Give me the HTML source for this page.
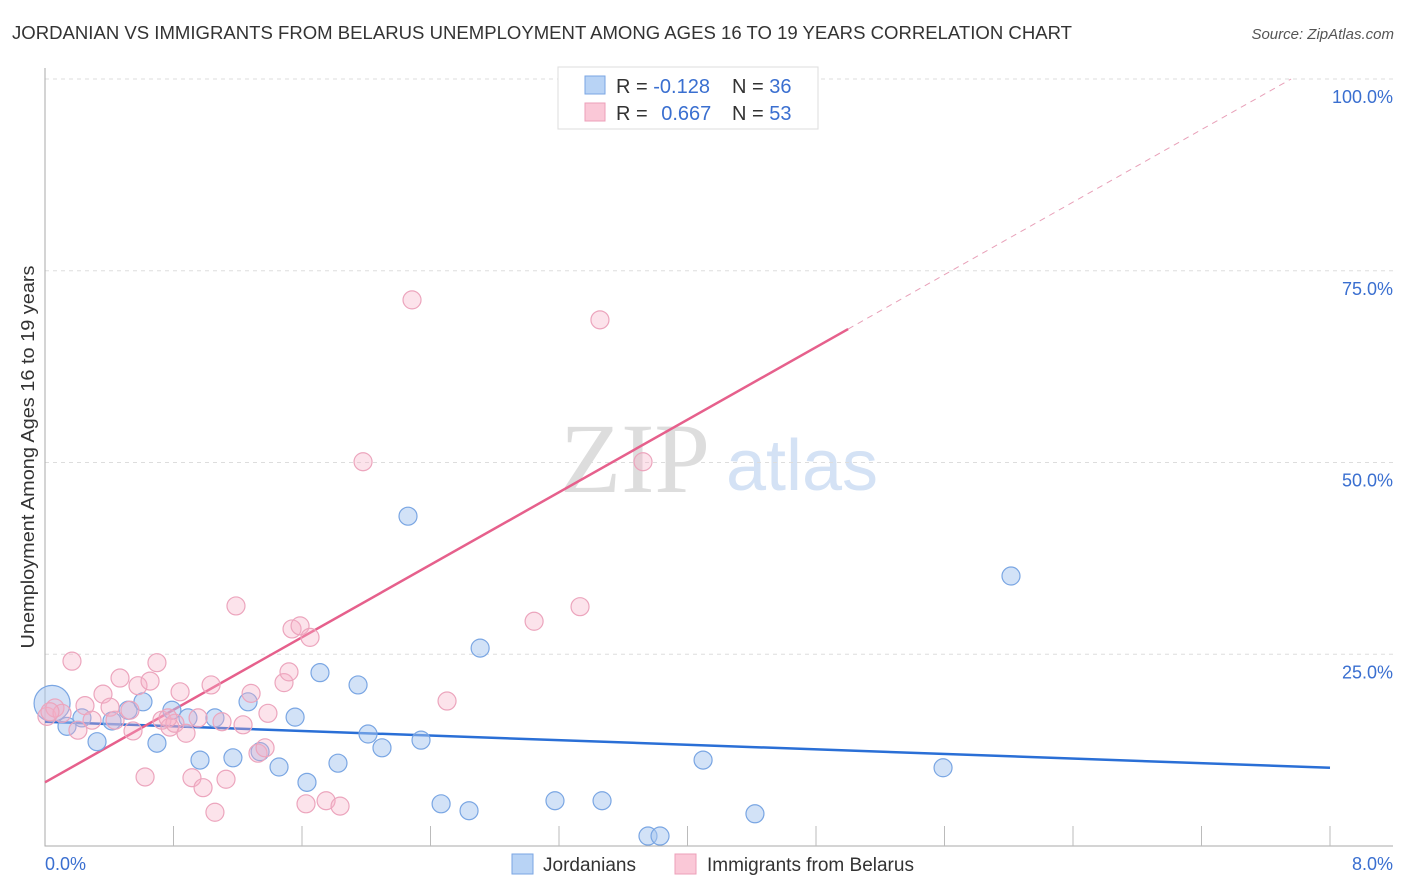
<!DOCTYPE html>
<html><head><meta charset="utf-8"><style>
body{margin:0;background:#fff;font-family:"Liberation Sans",sans-serif;}
svg{display:block}
</style></head><body>
<svg id="chart" width="1406" height="892" viewBox="0 0 1406 892">
<text x="12" y="39" font-size="18" fill="#333" textLength="1060" lengthAdjust="spacingAndGlyphs">JORDANIAN VS IMMIGRANTS FROM BELARUS UNEMPLOYMENT AMONG AGES 16 TO 19 YEARS CORRELATION CHART</text>
<text x="1394" y="39" font-size="15" fill="#555" text-anchor="end" font-style="italic">Source: ZipAtlas.com</text>
<g>
<text x="635" y="492" font-size="100" fill="#ddd" text-anchor="middle" font-family="Liberation Serif,serif">ZIP</text>
<text x="802" y="490" font-size="72" fill="#d4e2f5" text-anchor="middle">atlas</text>
</g>
<g id="grid"></g>
<g id="axes"></g>
<g id="lines"></g>
<g id="pts"></g>
<text x="34" y="457" font-size="18.5" fill="#333" text-anchor="middle" transform="rotate(-90 34 457)" textLength="383" lengthAdjust="spacingAndGlyphs">Unemployment Among Ages 16 to 19 years</text>
<text x="45" y="870" font-size="18" fill="#3a6fd0">0.0%</text>
<text x="1393" y="870" font-size="18" fill="#3a6fd0" text-anchor="end">8.0%</text>
<g>
<rect x="558" y="67" width="260" height="62" fill="#fff" stroke="#ddd"/>
<rect x="585" y="76" width="20" height="18" fill="#b8d3f5" stroke="#7aa6e3"/>
<rect x="585" y="103" width="20" height="18" fill="#fac8d7" stroke="#ec9fb8"/>
<text x="616" y="93" font-size="20" fill="#333">R = <tspan fill="#3a6fd0">-0.128</tspan></text>
<text x="732" y="93" font-size="20" fill="#333">N = <tspan fill="#3a6fd0">36</tspan></text>
<text x="616" y="120" font-size="20" fill="#333">R = <tspan fill="#3a6fd0" dx="8">0.667</tspan></text>
<text x="732" y="120" font-size="20" fill="#333">N = <tspan fill="#3a6fd0">53</tspan></text>
</g>
<g>
<rect x="512" y="854" width="21" height="20" fill="#b8d3f5" stroke="#7aa6e3"/>
<text x="543" y="871" font-size="19" fill="#333">Jordanians</text>
<rect x="675" y="854" width="21" height="20" fill="#fac8d7" stroke="#ec9fb8"/>
<text x="707" y="871" font-size="19" fill="#333">Immigrants from Belarus</text>
</g>
</svg>
<script>
const yTicks=[25,50,75,100];
const yTickLabels=["25.0%","50.0%","75.0%","100.0%"];
const xTicks=[0.8,1.6,2.4,3.2,4.0,4.8,5.6,6.4,7.2,8.0];
const blueX=[0.044,0.137,0.230,0.324,0.417,0.517,0.610,0.697,0.790,0.890,0.965,1.058,1.170,1.264,1.339,1.457,1.557,1.631,1.712,1.824,1.949,2.011,2.098,2.260,2.341,2.466,2.640,2.709,3.175,3.468,3.754,3.829,4.097,4.420,5.591,6.014];
const blueY=[18.6,15.6,16.7,13.6,16.3,17.7,18.8,13.4,17.7,16.7,11.2,16.7,11.5,18.8,12.3,10.3,16.8,8.3,22.6,10.8,21.0,14.6,12.8,43.0,13.8,5.5,4.6,25.8,5.9,5.9,1.3,1.3,11.2,4.2,10.2,35.2];
const pinkX=[0.012,0.062,0.106,0.168,0.205,0.249,0.293,0.361,0.405,0.467,0.529,0.548,0.579,0.623,0.654,0.697,0.728,0.778,0.809,0.841,0.878,0.915,0.953,0.984,1.034,1.058,1.102,1.127,1.189,1.233,1.283,1.326,1.370,1.388,1.488,1.519,1.538,1.588,1.625,1.650,1.750,1.837,1.980,2.285,2.503,3.045,3.331,3.455,3.723,4.165,0.031,0.436,0.766];
const pinkY=[16.9,18.0,17.3,24.1,15.1,18.3,16.4,19.8,18.1,21.9,17.7,15.0,20.9,9.0,21.5,23.9,16.4,15.5,16.0,20.1,14.7,8.9,16.7,7.6,21.0,4.4,16.2,8.7,31.3,15.8,19.9,12.1,12.8,17.3,21.3,22.7,28.3,28.7,5.5,27.2,5.9,5.2,50.1,71.2,18.9,29.3,31.2,68.6,50.1,99.9,17.5,16.4,16.7];
const blueTrend=[16.2,10.2];
const pinkTrend=[8.3,11.82];
const NS="http://www.w3.org/2000/svg";
const X=v=>45+v/8*1285, Y=v=>846-v/100*767;
function mk(t,a,p){const e=document.createElementNS(NS,t);for(const k in a)e.setAttribute(k,a[k]);p.appendChild(e);return e;}
const grid=document.getElementById('grid'),axes=document.getElementById('axes'),lines=document.getElementById('lines'),pts=document.getElementById('pts');
yTicks.forEach((t,i)=>{
 const l=mk('line',{x1:45,x2:1393,y1:Y(t),y2:Y(t),stroke:'#ddd','stroke-dasharray':'4,4'},grid);
 
 
 const tx=mk('text',{x:1393,y:Y(t)+24,'font-size':18,fill:'#3a6fd0','text-anchor':'end'},grid);
 tx.textContent=yTickLabels[i];
 
 
});
const ax=mk('path',{d:'M45 68V846H1393',stroke:'#aaa',fill:'none'},axes);


xTicks.forEach(t=>{
 const l=mk('line',{x1:X(t),x2:X(t),y1:826,y2:846,stroke:'#bbb'},axes);
 
 
});
const bt=mk('line',{x1:X(0),y1:Y(blueTrend[0]),x2:X(8),y2:Y(blueTrend[1]),stroke:'#2a6fd6','stroke-width':2.5},lines);


const pe=(100-pinkTrend[0])/pinkTrend[1];
const pd=mk('line',{x1:X(5),y1:Y(pinkTrend[0]+5*pinkTrend[1]),x2:X(pe),y2:Y(100),stroke:'#e8a0b8','stroke-width':1,'stroke-dasharray':'6,5'},lines);


const pt=mk('line',{x1:X(0),y1:Y(pinkTrend[0]),x2:X(5),y2:Y(pinkTrend[0]+5*pinkTrend[1]),stroke:'#e6608c','stroke-width':2.5},lines);


blueX.forEach((x,i)=>{
 const c=mk('circle',{cx:X(x),cy:Y(blueY[i]),r:i==0?18:9,fill:'rgba(165,198,240,0.5)',stroke:'#7aa6e3','stroke-width':1.2},pts);
 
 
});
pinkX.forEach((x,i)=>{
 const c=mk('circle',{cx:X(x),cy:Y(pinkY[i]),r:9,fill:'rgba(245,175,198,0.35)',stroke:'#eca5bd','stroke-width':1.2},pts);
 
 
});
</script>
</body></html>
